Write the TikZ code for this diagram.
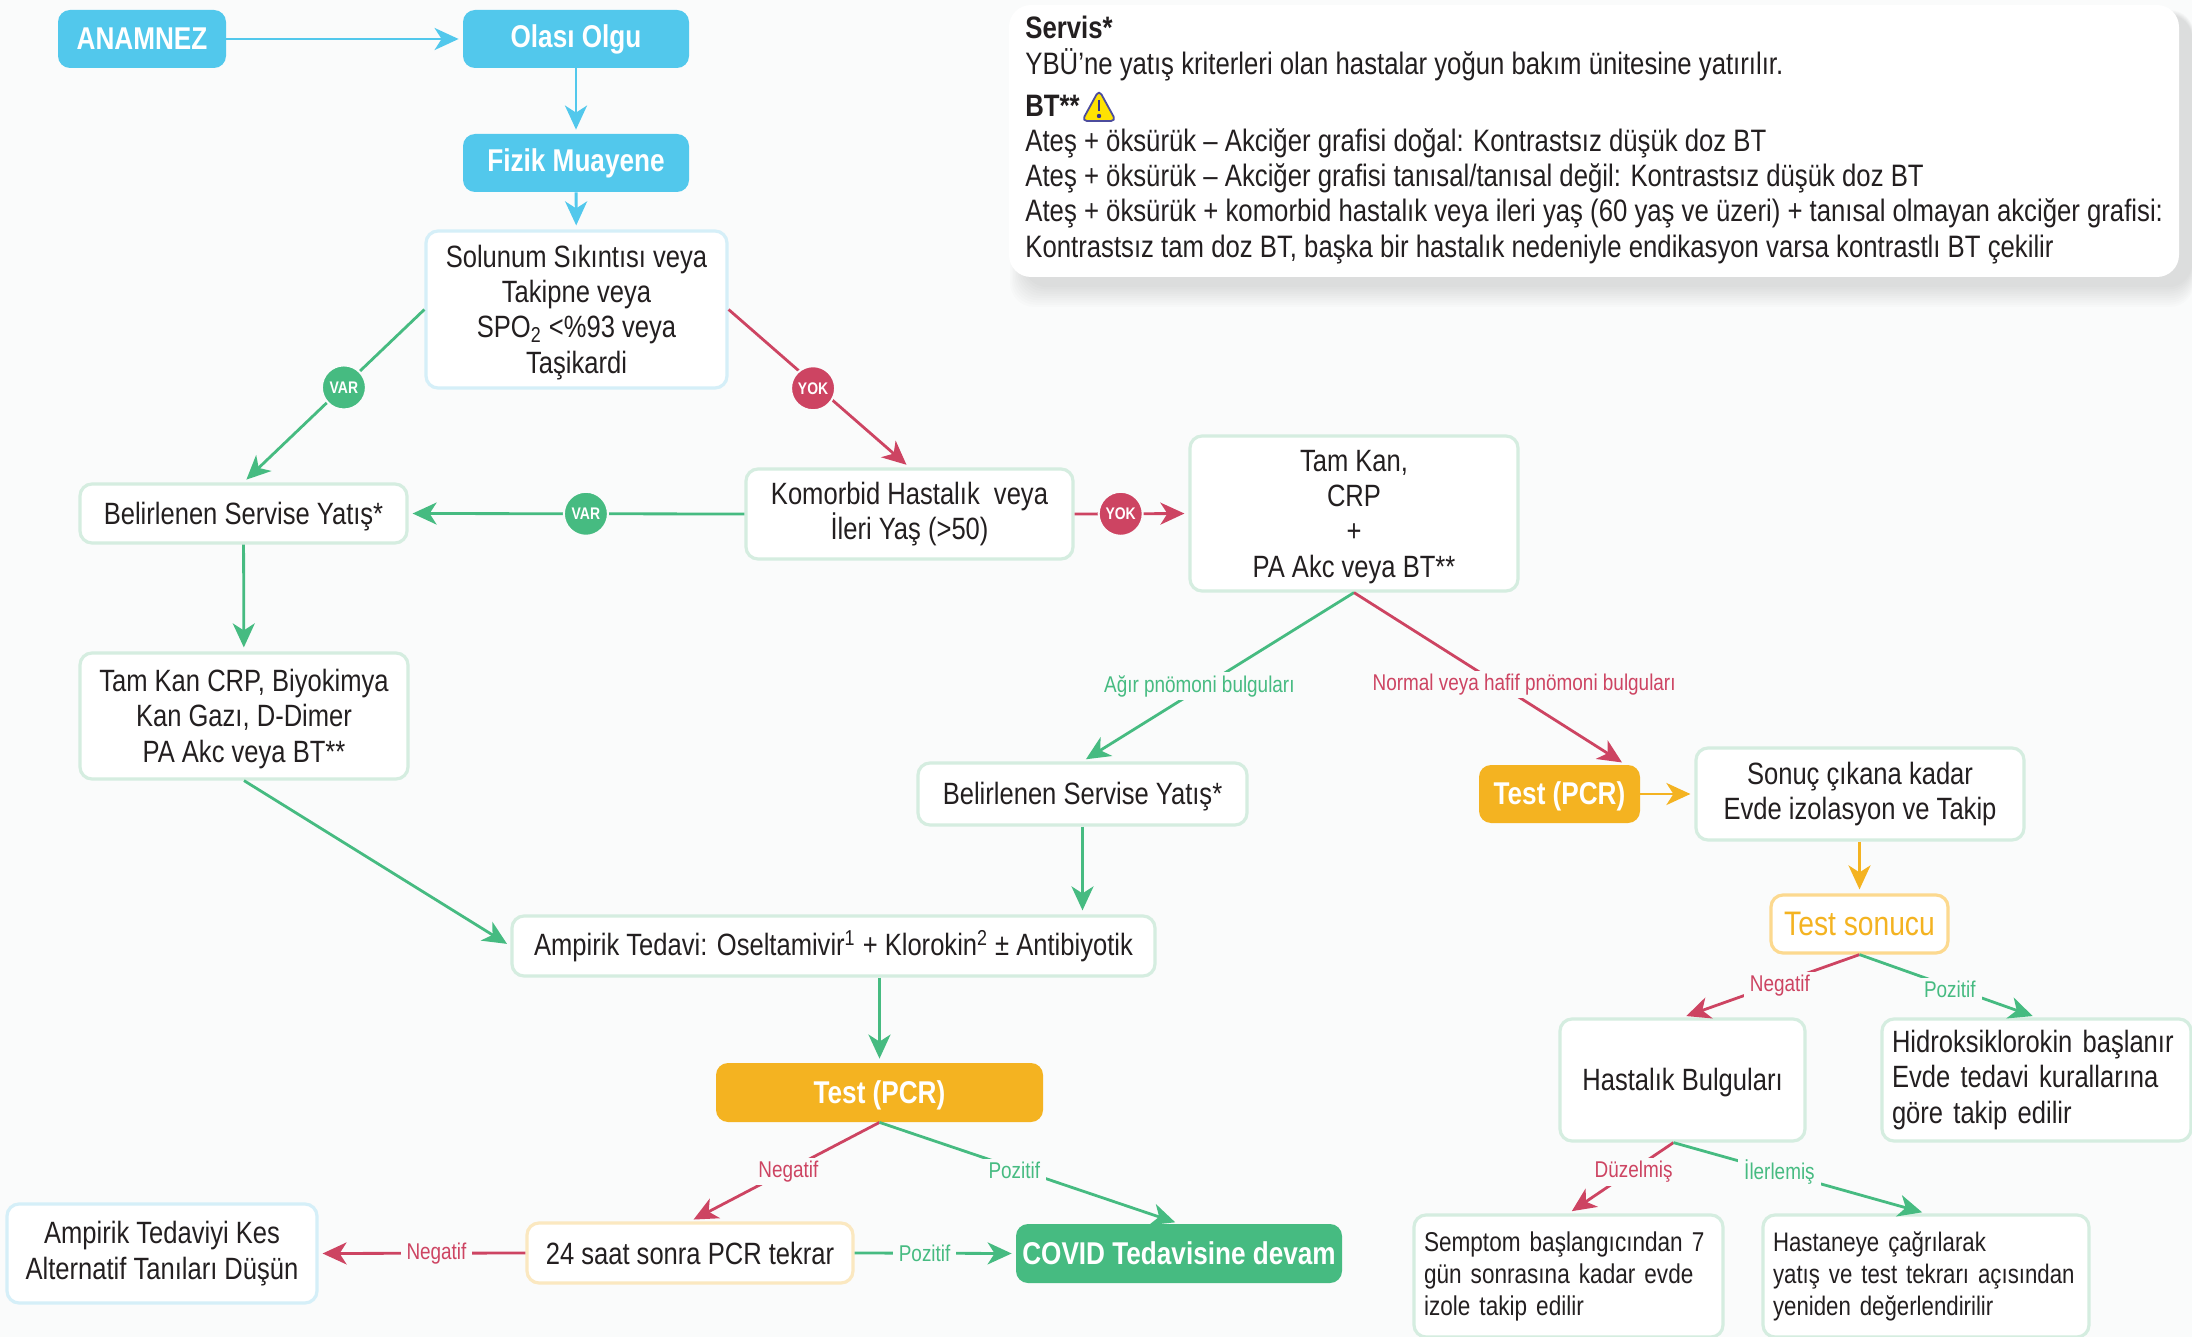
\documentclass[tikz,border=0pt]{standalone}
\usepackage{fontspec}
\setmainfont{Liberation Sans}[FakeStretch=0.83]
\usetikzlibrary{arrows.meta,calc}
\definecolor{bgc}{HTML}{FAFBFB}
\definecolor{bluec}{HTML}{52C8EC}
\definecolor{greenc}{HTML}{46BB81}
\definecolor{redc}{HTML}{CD4462}
\definecolor{orangec}{HTML}{F4B321}
\definecolor{pblue}{HTML}{D5EFF8}
\definecolor{pgreen}{HTML}{D5EDE0}
\definecolor{porange}{HTML}{FBE8C0}
\definecolor{morange}{HTML}{FCD98F}
\definecolor{txt}{HTML}{231F20}
\newcommand{\mybox}[7]{\node[#1,minimum width={(#5-#3)*0.5pt},minimum height={(#6-#4)*0.5pt}] (#2) at ({(#3+#5)/2},{-(#4+#6)/2}) {#7};}
\newcommand{\dnstrut}{\rule{0pt}{14pt}}
\tikzset{
  x=0.5pt,y=0.5pt,
  base/.style={rounded corners=6pt,inner sep=0pt,align=center,text=txt,font=\fontsize{15.4}{17.6}\selectfont},
  box/.style={base,draw=pgreen,fill=white,line width=1.6pt},
  bluebox/.style={box,draw=pblue},
  creambox/.style={box,draw=porange},
  solid blue/.style={base,fill=bluec,text=white,font=\fontsize{15.75}{18}\selectfont\bfseries},
  solid orange/.style={base,fill=orangec,text=white,font=\fontsize{15.75}{18}\selectfont\bfseries},
  solid green/.style={base,fill=greenc,text=white,font=\fontsize{15.75}{18}\selectfont\bfseries},
  conn/.style={line width=1.4pt,shorten >=2pt,-{Stealth[length=12pt,width=11pt,inset=3.5pt]}},
  bconn/.style={conn,draw=bluec},
  gconn/.style={conn,draw=greenc},
  rconn/.style={conn,draw=redc},
  oconn/.style={conn,draw=orangec},
  badge/.style={circle,minimum size=22pt,inner sep=0pt,draw=bgc,line width=1pt,text=white,font=\fontsize{8.4}{9}\selectfont\bfseries},
  gbadge/.style={badge,fill=greenc},
  rbadge/.style={badge,fill=redc},
  lbl/.style={fill=bgc,inner xsep=3pt,inner ysep=1.5pt,yshift=-1.2pt,font=\fontsize{11.4}{12}\selectfont},
  glbl/.style={lbl,text=greenc},
  rlbl/.style={lbl,text=redc},
  panel/.style={inner sep=0pt,align=left,text=txt,font=\fontsize{15.5}{17.6}\selectfont},
}
\begin{document}
\begin{tikzpicture}
\useasboundingbox (0,0) rectangle (2192,-1337);
\fill[bgc] (0,0) rectangle (2192,-1337);
% info panel with soft shadow
\foreach \e in {1,...,10}{
  \fill[black,opacity=0.012,rounded corners=12pt] ({1025-\e*1.5},{-15+\e*0.5}) rectangle ({2192+\e*0.2},{-285-\e*2.2});
}
\fill[white,rounded corners=11pt] (1009,-5) rectangle (2179,-277);
\node[panel,anchor=north west] (info) at (1025,-16) {\textbf{Servis*}\\
YBÜ'ne yatış kriterleri olan hastalar yoğun bakım ünitesine yatırılır.\\[3.5pt]
\textbf{BT**}\\
Ateş + öksürük -- Akciğer grafisi doğal: Kontrastsız düşük doz BT\\
Ateş + öksürük -- Akciğer grafisi tanısal/tanısal değil: Kontrastsız düşük doz BT\\
Ateş + öksürük + komorbid hastalık veya ileri yaş (60 yaş ve üzeri) + tanısal olmayan akciğer grafisi:\\
Kontrastsız tam doz BT, başka bir hastalık nedeniyle endikasyon varsa kontrastlı BT çekilir};
% warning icon
\draw[fill=yellow!85!orange,draw=blue!45!black!70,line width=0.9pt,rounded corners=2.5pt,line join=round] (1099,-90) -- (1116,-121) -- (1082,-121) -- cycle;
\draw[blue!45!black!80,line width=1.3pt] (1099,-100) -- (1099,-111);
\fill[blue!45!black!80] (1099,-116) circle (1.1pt);
% nodes
\mybox{solid blue}{anam}{58}{10}{226}{68}{ANAMNEZ}
\mybox{solid blue}{olasi}{463}{10}{689}{68}{Olası Olgu}
\mybox{solid blue}{fizik}{463}{134}{689}{192}{Fizik Muayene}
\mybox{bluebox}{sol}{426}{231}{727}{388}{\dnstrut Solunum Sıkıntısı veya\\Takipne veya\\SPO\textsubscript{2} <\%93 veya\\Taşikardi}
\mybox{box}{bel1}{80}{484}{407}{543}{\dnstrut Belirlenen Servise Yatış*}
\mybox{box}{kom}{746}{469}{1073}{559}{Komorbid Hastalık\ \ veya\\İleri Yaş (>50)}
\mybox{box}{tam}{1190}{436}{1518}{591}{\dnstrut Tam Kan,\\CRP\\+\\PA Akc veya BT**}
\mybox{box}{crp}{80}{653}{408}{779}{\dnstrut Tam Kan CRP, Biyokimya\\Kan Gazı, D-Dimer\\PA Akc veya BT**}
\mybox{box}{bel2}{918}{763}{1247}{825}{\dnstrut Belirlenen Servise Yatış*}
\mybox{solid orange}{pcrb}{1479}{765}{1640}{823}{\dnstrut Test (PCR)}
\mybox{box}{sonuc}{1696}{748}{2024}{840}{Sonuç çıkana kadar\\Evde izolasyon ve Takip}
\mybox{box,draw=morange,text=orangec,font=\fontsize{17}{18}\selectfont}{tsonuc}{1771}{895}{1948}{953}{Test sonucu}
\mybox{box}{ampi}{512}{916}{1155}{976}{Ampirik Tedavi: Oseltamivir\textsuperscript{1} + Klorokin\textsuperscript{2} ± Antibiyotik}
\mybox{solid orange}{pcra}{716}{1063}{1043}{1122}{\dnstrut Test (PCR)}
\mybox{creambox}{saat}{527}{1223}{853}{1283}{24 saat sonra PCR tekrar}
\mybox{solid green}{covid}{1016}{1224}{1342}{1283}{COVID Tedavisine devam}
\mybox{bluebox}{kes}{7}{1204}{317}{1303}{Ampirik Tedaviyi Kes\\Alternatif Tanıları Düşün}
\mybox{box}{hast}{1560}{1019}{1805}{1141}{\dnstrut Hastalık Bulguları}
\mybox{box,align=left,text width=144.5pt}{hidro}{1882}{1019}{2191}{1141}{Hidroksiklorokin başlanır\\Evde tedavi kurallarına\\göre takip edilir}
\mybox{box,align=left,text width=144.5pt,font=\fontsize{13.6}{16}\selectfont}{semp}{1414}{1215}{1723}{1337}{Semptom başlangıcından 7\\gün sonrasına kadar evde\\izole takip edilir}
\mybox{box,align=left,text width=153pt,font=\fontsize{13.4}{16}\selectfont}{hasy}{1763}{1215}{2089}{1337}{Hastaneye çağrılarak\\\mbox{yatış ve test tekrarı açısından}\\yeniden değerlendirilir}
% connectors
\draw[bconn] (anam) -- (olasi);
\draw[bconn] (olasi) -- (fizik);
\draw[bconn] (fizik) -- (sol);
\draw[gconn] (sol.west) -- node[pos=.445,gbadge,yshift=-0.5pt] (v1) {VAR} (bel1.north);
\draw[rconn] (sol.east) -- node[pos=.467,rbadge,yshift=-2.5pt] (y1) {YOK} (kom.north);
\draw[gconn] (kom.west) -- node[pos=.472,gbadge] (v2) {VAR} (bel1.east);
\draw[rconn] (kom.east) -- node[pos=.405,rbadge] (y2) {YOK} (tam.west);
\draw[gconn] (bel1) -- (crp);
\draw[gconn] (crp.south) -- (ampi.west);
\draw[gconn] (tam.south) -- node[pos=.54,xshift=-4pt,glbl] (agir) {Ağır pnömoni bulguları} (bel2.north);
\draw[rconn] (tam.south) -- node[pos=.52,xshift=14.5pt,rlbl] (hafif) {Normal veya hafif pnömoni bulguları} ($(pcrb.north east)+(-15,0)$);
\draw[gconn] (bel2.south) -- (bel2.south |- ampi.north);
\draw[gconn] (ampi.south -| pcra.north) -- (pcra.north);
\draw[rconn] (pcra.south) -- node[pos=.47,xshift=-1pt,rlbl] (n1) {Negatif} (saat.north);
\draw[gconn] (pcra.south) -- node[pos=.45,glbl] (p1) {Pozitif} (covid.north);
\draw[rconn] (saat.west) -- node[pos=.43,lbl,yshift=1.2pt,text=redc] (n2) {Negatif} (kes.east);
\draw[gconn] (saat.east) -- node[pos=.435,lbl,yshift=1.2pt,text=greenc] (p2) {Pozitif} (covid.west);
\draw[oconn] (pcrb) -- (sonuc);
\draw[oconn] (sonuc.south -| tsonuc.north) -- (tsonuc.north);
\draw[rconn] (tsonuc.south) -- node[pos=.45,rlbl] (n3) {Negatif} (hast.north);
\draw[gconn] (tsonuc.south) -- node[pos=.51,glbl] (p3) {Pozitif} (hidro.north);
\draw[rconn] ($(hast.south)+(-9,0)$) -- node[pos=.38,rlbl] (d1) {Düzelmiş} (semp.north);
\draw[gconn] ($(hast.south)+(-9,0)$) -- node[pos=.38,xshift=5pt,glbl] (i1) {İlerlemiş} (hasy.north);
\end{tikzpicture}
\end{document}
